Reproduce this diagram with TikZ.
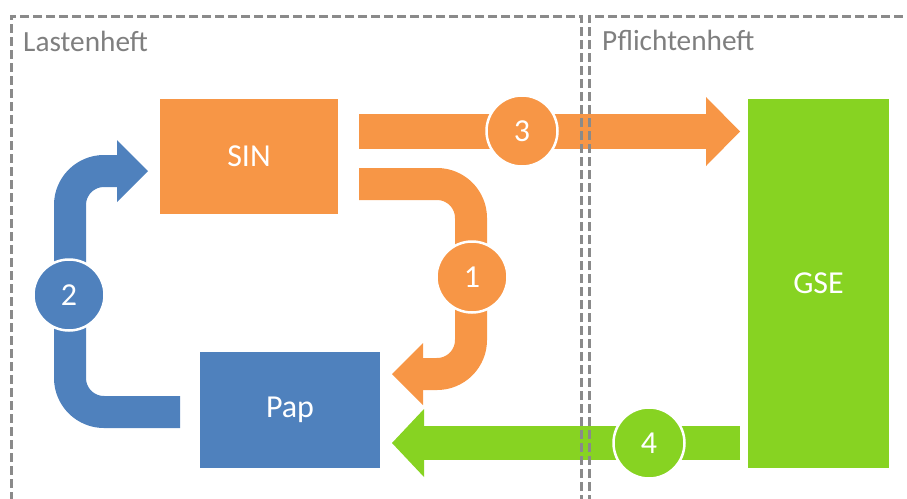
\documentclass[tikz,border=0pt]{standalone}
\usepackage{fontspec}
\setmainfont{Carlito}
\definecolor{orng}{HTML}{F79646}
\definecolor{blu}{HTML}{4F81BD}
\definecolor{grn}{HTML}{87D322}
\definecolor{dashgray}{HTML}{8A8A8A}
\definecolor{labelgray}{HTML}{7F7F7F}
\begin{document}
\begin{tikzpicture}[x=1pt,y=-1pt,
  box/.style={rectangle, inner sep=0pt, text=white, font=\fontsize{32}{38}\selectfont},
  shaft/.style={line width=#1, line cap=butt, line join=round},
  numcirc/.style={circle, draw=white, line width=2.5pt, minimum size=71pt, inner sep=0pt, text=white, font=\fontsize{32}{38}\selectfont},
  region/.style={draw=dashgray, line width=3pt, dash pattern=on 9pt off 4pt},
  regionlabel/.style={anchor=base west, inner sep=0pt, text=labelgray, font=\fontsize{29.3}{35}\selectfont},
]
\clip (0,0) rectangle (907,498);

% boxes
\node[box, fill=orng, minimum width=178pt, minimum height=115pt] (sin) at (249,156.5) {SIN};
\node[box, fill=blu, minimum width=180pt, minimum height=116pt] (pap) at (290,410) {Pap};
\node[box, fill=grn, minimum width=141pt, minimum height=369pt] (gse) at (818.5,283.5) {GSE};

% arrow 3 : SIN -> GSE
\coordinate (a3s) at (359,131.5);
\coordinate (a3b) at (708,131.5);
\coordinate (a3t) at (740,131.5);
\draw[shaft=35pt, orng] (a3s) -- (a3b);
\fill[orng] (706,97) -- (a3t) -- (706,166) -- cycle;

% arrow 1 : SIN -> Pap
\coordinate (a1s) at (359,184);
\coordinate (a1c1) at (471,184);
\coordinate (a1c2) at (471,374);
\coordinate (a1b) at (421,374);
\coordinate (a1t) at (392,374);
\draw[shaft=32pt, orng, rounded corners=34pt] (a1s) -- (a1c1) -- (a1c2) -- (a1b);
\fill[orng] (423,343) -- (a1t) -- (423,405) -- cycle;

% arrow 2 : Pap -> SIN
\coordinate (a2s) at (180,412);
\coordinate (a2c1) at (70,412);
\coordinate (a2c2) at (70,171);
\coordinate (a2b) at (119,171);
\coordinate (a2t) at (148,171);
\draw[shaft=32pt, blu, rounded corners=34pt] (a2s) -- (a2c1) -- (a2c2) -- (a2b);
\fill[blu] (117,140) -- (a2t) -- (117,202) -- cycle;

% arrow 4 : GSE -> Pap
\coordinate (a4s) at (740,443);
\coordinate (a4b) at (422,443);
\coordinate (a4t) at (392,443);
\draw[shaft=34pt, grn] (a4s) -- (a4b);
\fill[grn] (424,409) -- (a4t) -- (424,477) -- cycle;

% number circles
\node[numcirc, fill=orng] (n1) at (472,277) {1};
\node[numcirc, fill=blu] (n2) at (69,295) {2};
\node[numcirc, fill=orng] (n3) at (522,131) {3};
\node[numcirc, fill=grn] (n4) at (649,443) {4};

% regions
\draw[region] (581,530) -- (581,16) -- (11,16) -- (11,530);
\draw[region] (589,530) -- (589,16) -- (930,16);
\node[regionlabel] (lh) at (23,51) {Lastenheft};
\node[regionlabel] (ph) at (602,50) {Pflichtenheft};
\end{tikzpicture}
\end{document}
